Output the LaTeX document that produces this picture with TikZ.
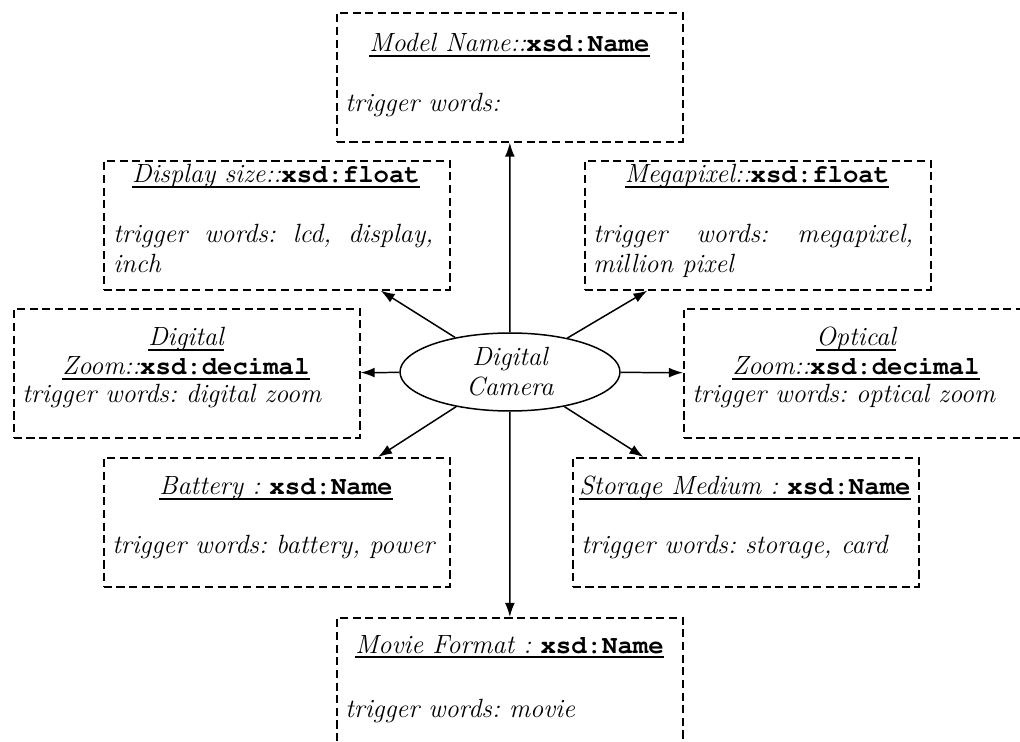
\documentclass[tikz,border=0pt]{standalone}
\usepackage[T1]{fontenc}
\usepackage{fontspec}
\usetikzlibrary{arrows.meta,shapes.geometric}
\frenchspacing
% informal text face
\newcommand\handfont{\rmfamily\itshape\fontsize{15}{17}\selectfont}
% bold typewriter type names (Courier)
\newcommand\xsd[1]{{\fontencoding{T1}\fontfamily{pcr}\fontseries{b}\fontshape{n}\fontsize{14.6}{17}\selectfont #1}}
% heavier underline for the attribute titles
\newcommand\uline[1]{\setbox0\hbox{#1}\rlap{\vrule height -1.9pt depth 3.1pt width \wd0}\box0}
\begin{document}
\begin{tikzpicture}[x=0.02cm,y=-0.02cm,
  attrbox/.style={draw,dash pattern=on 4.6pt off 2.6pt,line width=0.95pt,
    minimum width=6.92cm,minimum height=2.58cm,inner sep=0pt,anchor=north west},
  ttl/.style={inner sep=0pt,anchor=base,font=\handfont},
  trig/.style={inner sep=0pt,anchor=base west,font=\handfont},
  arr/.style={line width=0.85pt,-{Latex[length=8pt,width=5.6pt]}}]
\clip (0,0) rectangle (1020,742);

% attribute boxes
\node[attrbox] (model) at (336,12)  {};
\node[attrbox] (disp)  at (103,160) {};
\node[attrbox] (mega)  at (584,160) {};
\node[attrbox] (dzoom) at (13,308)  {};
\node[attrbox] (ozoom) at (683,308) {};
\node[attrbox] (batt)  at (103,457) {};
\node[attrbox] (stor)  at (572,457) {};
\node[attrbox] (movie) at (336,617) {};

% titles
\node[ttl] (modelT) at (509.5,52)  {\uline{Model Name::\xsd{xsd:Name}}};
\node[ttl] (dispT)  at (276,183)   {\uline{Display size::\xsd{xsd:float}}};
\node[ttl] (megaT)  at (757,183)   {\uline{Megapixel::\xsd{xsd:float}}};
\node[ttl] (dzoomA) at (186,346)   {\uline{Digital}};
\node[ttl] (dzoomB) at (186,375)   {\uline{Zoom::\xsd{xsd:decimal}}};
\node[ttl] (ozoomA) at (856,346)   {\uline{Optical}};
\node[ttl] (ozoomB) at (856,375)   {\uline{Zoom::\xsd{xsd:decimal}}};
\node[ttl] (battT)  at (276,495)   {\uline{Battery : \xsd{xsd:Name}}};
\node[ttl] (storT)  at (745,495)   {\uline{Storage Medium : \xsd{xsd:Name}}};
\node[ttl] (movieT) at (509.5,653) {\uline{Movie Format : \xsd{xsd:Name}}};

% trigger words
\node[trig] (modelW) at (345,112) {trigger words:};
\node[trig] (dispW)  at (113,243) {\makebox[6.4cm][s]{trigger words: lcd, display,}};
\node[trig] (dispW2) at (113,273) {inch};
\node[trig] (megaW)  at (593,243) {\makebox[6.4cm][s]{trigger words: megapixel,}};
\node[trig] (megaW2) at (593,273) {million pixel};
\node[trig] (dzoomW) at (22,403)  {trigger words: digital zoom};
\node[trig] (ozoomW) at (692,403) {trigger words: optical zoom};
\node[trig] (battW)  at (112,553) {trigger words: battery, power};
\node[trig] (storW)  at (581,553) {trigger words: storage, card};
\node[trig] (movieW) at (345,717) {trigger words: movie};

% central concept
\node[draw,ellipse,line width=0.85pt,minimum width=4.4cm,minimum height=1.56cm,inner sep=0pt,
  align=center,font=\handfont] (cam) at (510,372) {Digital\\Camera};

% relations
\foreach \t in {model,disp,mega,dzoom,ozoom,batt,stor,movie}
  \draw[arr] (cam) -- (\t);
\end{tikzpicture}
\end{document}
